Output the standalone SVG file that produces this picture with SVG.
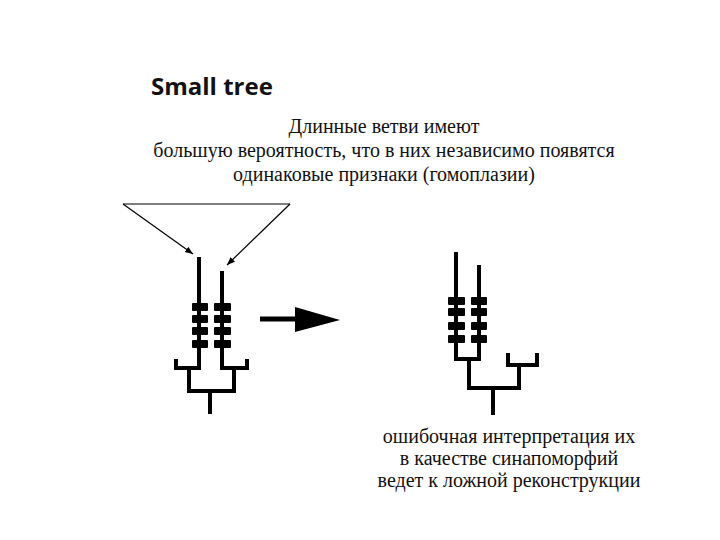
<svg xmlns="http://www.w3.org/2000/svg" width="720" height="540" viewBox="0 0 720 540">
<defs>
<style>
.title{font-family:"Open Sans","Liberation Sans",sans-serif;font-weight:bold;font-size:24px;fill:#111}
.ru{font-family:"Liberation Serif","DejaVu Serif",serif;font-size:20px;fill:#111;text-anchor:middle}
.ru2{font-family:"Liberation Serif","DejaVu Serif",serif;font-size:20px;fill:#111;text-anchor:middle}
.br{fill:none;stroke:#000;stroke-width:4;stroke-linecap:butt;stroke-linejoin:miter}
.thin{fill:none;stroke:#000;stroke-width:1.2}
.bar{fill:#000}
</style>
<marker id="ah" viewBox="0 0 10 10" refX="10" refY="5" markerWidth="8" markerHeight="8" orient="auto" markerUnits="userSpaceOnUse">
<path d="M0,1 L10,5 L0,9 z" fill="#000"/>
</marker>
</defs>
<rect width="720" height="540" fill="#fff"/>
<text class="title" x="151" y="95">Small tree</text>
<g id="caption-top">
<text class="ru" x="384" y="133">Длинные ветви имеют</text>
<text class="ru" x="384" y="157">большую вероятность, что в них независимо появятся</text>
<text class="ru" x="384" y="181">одинаковые признаки (гомоплазии)</text>
</g>
<g id="connectors">
<path class="thin" d="M123,204 L290,204"/>
<path class="thin" d="M123,204 L193,254" marker-end="url(#ah)"/>
<path class="thin" d="M290,204 L227,265" marker-end="url(#ah)"/>
<path d="M260,319 L297,319" stroke="#000" stroke-width="5"/>
<path d="M295,307 L340,320 L295,332 z" fill="#000"/>
</g>
<g id="tree-left">
<path class="br" d="M199,257 V368 H176 V359"/>
<path class="br" d="M222,271 V368 H247 V359"/>
<path class="br" d="M189,368 V391 H234 V368"/>
<path class="br" d="M210,391 V414"/>
<rect class="bar" x="192" y="303" width="16" height="8" rx="1"/>
<rect class="bar" x="192" y="315" width="16" height="8" rx="1"/>
<rect class="bar" x="192" y="327" width="16" height="8" rx="1"/>
<rect class="bar" x="192" y="340" width="16" height="8" rx="1"/>
<rect class="bar" x="214" y="303" width="17" height="8" rx="1"/>
<rect class="bar" x="214" y="315" width="17" height="8" rx="1"/>
<rect class="bar" x="214" y="327" width="17" height="8" rx="1"/>
<rect class="bar" x="214" y="340" width="17" height="8" rx="1"/>
</g>
<g id="tree-right">
<path class="br" d="M456,252 V359 H479 V265"/>
<path class="br" d="M469,359 V388 H519 V365"/>
<path class="br" d="M508,353 V365 H537 V353"/>
<path class="br" d="M493,388 V415"/>
<rect class="bar" x="448" y="297" width="17" height="8" rx="1"/>
<rect class="bar" x="448" y="308" width="17" height="8" rx="1"/>
<rect class="bar" x="448" y="322" width="17" height="8" rx="1"/>
<rect class="bar" x="448" y="335" width="17" height="8" rx="1"/>
<rect class="bar" x="471" y="297" width="16" height="8" rx="1"/>
<rect class="bar" x="471" y="308" width="16" height="8" rx="1"/>
<rect class="bar" x="471" y="322" width="16" height="8" rx="1"/>
<rect class="bar" x="471" y="335" width="16" height="8" rx="1"/>
</g>
<g id="caption-bottom">
<text class="ru2" x="509" y="443">ошибочная интерпретация их</text>
<text class="ru2" x="509" y="465">в качестве синапоморфий</text>
<text class="ru2" x="509" y="487">ведет к ложной реконструкции</text>
</g>
</svg>
